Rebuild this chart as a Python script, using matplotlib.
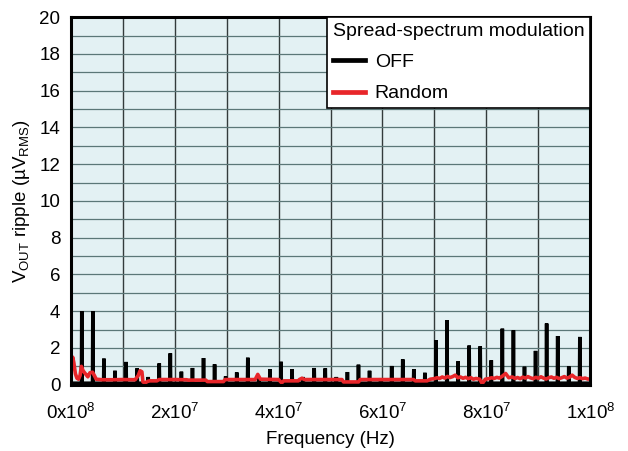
import matplotlib
matplotlib.use("Agg")
import matplotlib.pyplot as plt
import numpy as np
from matplotlib.lines import Line2D

plt.rcParams['font.family'] = ['Liberation Sans', 'DejaVu Sans']
plt.rcParams['mathtext.fontset'] = 'custom'
plt.rcParams['mathtext.rm'] = 'Liberation Sans'
plt.rcParams['mathtext.it'] = 'Liberation Sans:italic'

# Switching fundamental (MHz) and harmonic amplitudes with spread spectrum OFF (uV RMS)
f_sw_mhz = 2.13
off_peaks = [4.0, 4.0, 1.42, 0.76, 1.24, 0.89, 0.42, 1.16, 1.71, 0.71,
             0.91, 1.45, 1.11, 0.45, 0.67, 1.47, 0.35, 0.85, 1.25, 0.84,
             0.42, 0.91, 0.89, 0.42, 0.69, 1.09, 0.76, 0.36, 1.02, 1.38,
             0.85, 0.65, 2.42, 3.51, 1.27, 2.13, 2.09, 1.33, 3.05, 2.96,
             0.98, 1.84, 3.33, 2.65, 1.00, 2.60]
off_floor = 0.08

# Random spread-spectrum trace: frequency (MHz) and ripple (uV RMS)
rand_f = [0.0, 0.2, 0.38, 0.6, 0.9, 1.2, 1.5, 1.8, 2.05, 2.4, 2.95, 3.3, 3.7, 4.2,
          4.55, 4.9, 6.0, 8.0, 10.0, 12.4, 13.0, 13.35, 13.7, 13.9, 14.3, 14.8,
          15.2, 16.6, 17.0, 20.0, 22.3, 22.6, 26.0, 26.3, 29.4, 29.7, 33.0, 35.5,
          36.0, 36.5, 40.0, 40.6, 41.0, 43.8, 44.0, 44.5, 45.0, 49.0, 52.2, 52.5,
          55.4, 55.7, 60.0, 66.0, 66.3, 68.6, 69.2, 70.0, 70.5, 71.0, 71.5, 72.0,
          72.5, 73.0, 73.5, 74.0, 74.5, 75.0, 75.5, 76.0, 76.5, 77.0, 77.5, 78.0,
          78.7, 79.2, 79.8, 80.5, 81.0, 81.5, 82.0, 82.5, 83.0, 83.7, 84.3, 85.0,
          85.5, 86.0, 86.5, 87.0, 87.5, 88.0, 88.5, 89.0, 89.5, 90.0, 90.5, 91.0,
          91.5, 92.0, 92.5, 93.0, 93.5, 94.0, 94.5, 95.0, 95.5, 96.0, 96.5, 97.0,
          97.5, 98.0, 98.5, 99.0, 99.5, 100.0]
rand_v = [0.3, 1.2, 1.5, 1.2, 0.6, 0.35, 0.3, 0.5, 1.0, 0.75, 0.55, 0.43, 0.65, 0.68,
          0.5, 0.3, 0.27, 0.27, 0.28, 0.27, 0.5, 0.76, 0.7, 0.15, 0.1, 0.18,
          0.21, 0.21, 0.28, 0.28, 0.27, 0.25, 0.25, 0.17, 0.17, 0.28, 0.28, 0.28,
          0.56, 0.3, 0.28, 0.1, 0.21, 0.21, 0.28, 0.35, 0.28, 0.28, 0.28, 0.15,
          0.15, 0.28, 0.28, 0.28, 0.21, 0.21, 0.3, 0.33, 0.38, 0.34, 0.42, 0.36,
          0.45, 0.39, 0.44, 0.52, 0.38, 0.42, 0.35, 0.4, 0.33, 0.38, 0.3, 0.34,
          0.3, 0.06, 0.3, 0.33, 0.38, 0.34, 0.4, 0.36, 0.45, 0.61, 0.38, 0.42,
          0.34, 0.39, 0.33, 0.41, 0.36, 0.44, 0.37, 0.33, 0.4, 0.35, 0.43, 0.36,
          0.31, 0.38, 0.42, 0.35, 0.4, 0.33, 0.38, 0.44, 0.36, 0.41, 0.52, 0.4,
          0.34, 0.38, 0.33, 0.36, 0.31, 0.3]

x_ticks = [0, 2e7, 4e7, 6e7, 8e7, 1e8]
x_tick_labels = [r'0x10$^{8}$', r'2x10$^{7}$', r'4x10$^{7}$', r'6x10$^{7}$',
                 r'8x10$^{7}$', r'1x10$^{8}$']
y_ticks = list(range(0, 21, 2))

# Build the OFF spectrum as narrow spikes on a low floor
half_w = 0.06
off_x = [0.0]
off_y = [off_floor]
for n, peak in enumerate(off_peaks, start=1):
    fc = n * f_sw_mhz
    off_x += [fc - half_w, fc, fc + half_w]
    off_y += [off_floor, peak, off_floor]
off_x.append(100.0)
off_y.append(off_floor)
off_x = np.array(off_x) * 1e6
rand_x = np.array(rand_f) * 1e6

fig = plt.figure(figsize=(6.28, 4.51), dpi=100)
ax = fig.add_axes([0.1126, 0.147, 0.8274, 0.815])
ax.set_facecolor('#e3f1f3')

ax.plot(off_x, off_y, color='black', lw=2.6, solid_joinstyle='miter', zorder=3)
ax.plot(rand_x, rand_v, color='#e8262a', lw=2.6, zorder=4)

ax.set_xlim(0, 1e8)
ax.set_ylim(0, 20)

# Grid: vertical every 1e7, horizontal every 1 unit
for xv in np.arange(1e7, 1e8, 1e7):
    ax.axvline(xv, color='#333b3b', lw=1.0, zorder=1)
for yv in range(1, 20):
    ax.axhline(yv, color='#5b7777', lw=0.9, zorder=1)

ax.set_xticks(x_ticks)
ax.set_xticklabels(x_tick_labels, fontsize=13.5)
ax.set_yticks(y_ticks)
ax.set_yticklabels([str(v) for v in y_ticks], fontsize=13.5)
ax.tick_params(axis='x', length=0, pad=13)
ax.tick_params(axis='y', length=0, pad=7.5)
ax.set_xlabel('Frequency (Hz)', fontsize=13.5, labelpad=6)
ax.set_ylabel(r'V$_{\mathrm{OUT}}$ ripple (µV$_{\mathrm{RMS}}$)', fontsize=13.5, labelpad=5)

for s in ax.spines.values():
    s.set_linewidth(2.2)
    s.set_color('black')
    s.set_zorder(6)

handles = [Line2D([], [], color='black', lw=3.4),
           Line2D([], [], color='#e8262a', lw=3.4)]
leg = ax.legend(handles, ['OFF', 'Random'], title='Spread-spectrum modulation',
                loc='upper right', borderaxespad=0, fancybox=False,
                fontsize=14, title_fontsize=14, alignment='left',
                handlelength=1.65, handletextpad=0.5, borderpad=0.3,
                labelspacing=0.7, framealpha=1)
leg.get_frame().set_edgecolor('black')
leg.get_frame().set_linewidth(1.2)
leg.set_zorder(7)

fig.savefig('out.png', dpi=100)
